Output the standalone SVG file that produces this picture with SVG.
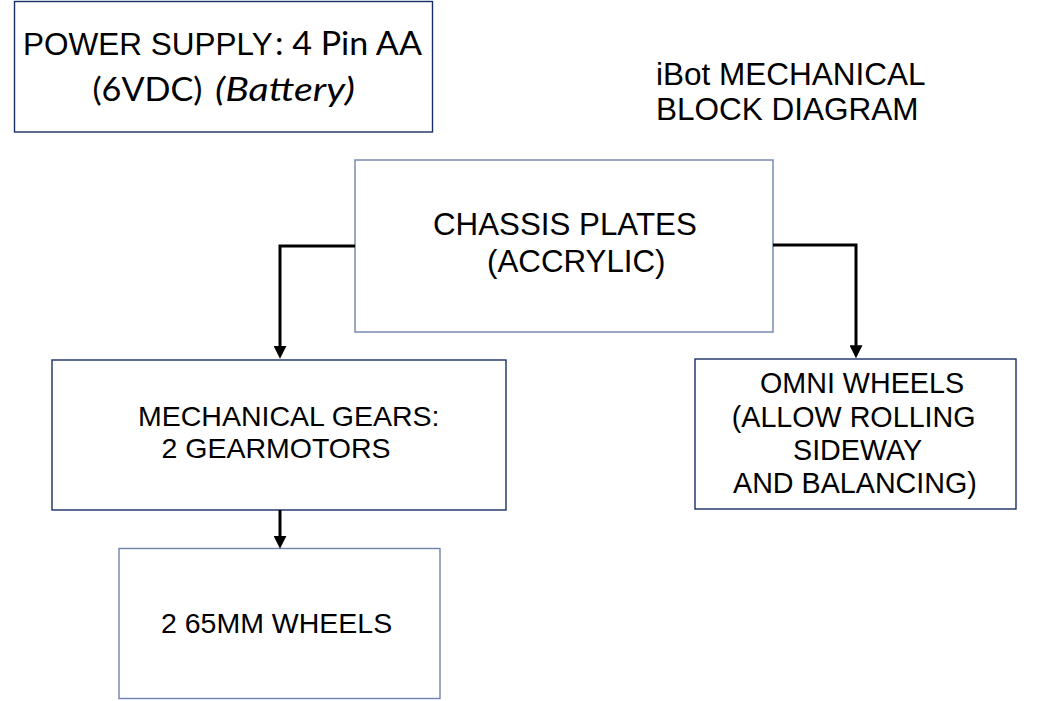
<svg xmlns="http://www.w3.org/2000/svg" width="1041" height="701" viewBox="0 0 1041 701">
<style>
.box{fill:#ffffff;stroke-width:1.4}
.navy{stroke:#1a2d66}
.grey{stroke:#7083ad}
.t{font-family:"Liberation Sans",Arial,sans-serif;fill:#000}
.c{font-family:Lato,"Noto Sans",sans-serif;fill:#000}
.conn{fill:none;stroke:#000;stroke-width:3}
</style>
<defs>
<marker id="arr" markerUnits="userSpaceOnUse" markerWidth="13" markerHeight="13" viewBox="0 0 12 12" refX="2" refY="6" orient="auto">
<path d="M0,0 L12,6 L0,12 z" fill="#000"/>
</marker>
</defs>
<rect width="1041" height="701" fill="#ffffff"/>
<g id="power">
<rect class="box navy" x="14.5" y="1.5" width="418" height="130.5"/>
<text class="t" x="23" y="55" font-size="31.5">POWER SUPPLY</text>
<text class="c" x="275" y="55" font-size="32" textLength="147" lengthAdjust="spacingAndGlyphs">: 4 Pin AA</text>
<text class="c" x="92.5" y="101" font-size="32" textLength="110" lengthAdjust="spacingAndGlyphs">(6VDC)</text>
<text class="c" x="215" y="101" font-size="32" font-style="italic" textLength="140" lengthAdjust="spacingAndGlyphs">(Battery)</text>
</g>
<g id="title">
<text class="t" x="656" y="85" font-size="31.5">iBot MECHANICAL</text>
<text class="t" x="656" y="120" font-size="31.5">BLOCK DIAGRAM</text>
</g>
<g id="chassis">
<rect class="box grey" x="355" y="160" width="418" height="172"/>
<text class="t" x="433" y="235" font-size="31.3">CHASSIS PLATES</text>
<text class="t" x="487" y="271.5" font-size="31.3">(ACCRYLIC)</text>
</g>
<g id="mech">
<rect class="box navy" x="52" y="360" width="454" height="150"/>
<text class="t" x="138" y="425.5" font-size="28.5">MECHANICAL GEARS:</text>
<text class="t" x="161.5" y="458.3" font-size="28.5">2 GEARMOTORS</text>
</g>
<g id="omni">
<rect class="box navy" x="695" y="359" width="321" height="150"/>
<text class="t" x="760" y="393.3" font-size="28.7">OMNI WHEELS</text>
<text class="t" x="731.7" y="426.7" font-size="28.7">(ALLOW ROLLING</text>
<text class="t" x="793" y="460" font-size="28.7">SIDEWAY</text>
<text class="t" x="733" y="493.3" font-size="28.7">AND BALANCING)</text>
</g>
<g id="wheels">
<rect class="box grey" x="119" y="548.5" width="321" height="150"/>
<text class="t" x="161" y="633.3" font-size="28.5">2 65MM WHEELS</text>
</g>
<g id="connectors">
<path class="conn" d="M355,246 H280 V348" marker-end="url(#arr)"/>
<path class="conn" d="M773,245 H856 V347.5" marker-end="url(#arr)"/>
<path class="conn" d="M280,510 V538" marker-end="url(#arr)"/>
</g>
</svg>
